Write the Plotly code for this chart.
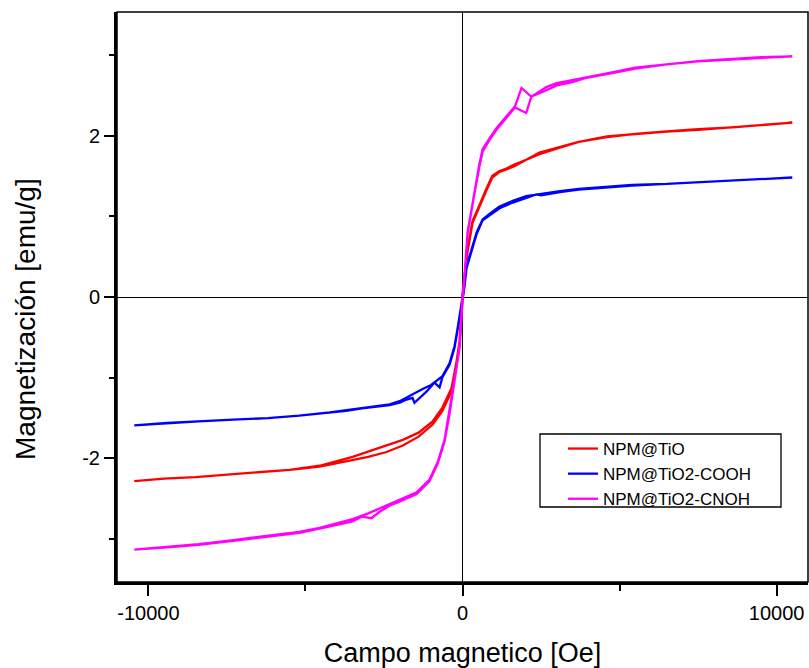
import plotly.graph_objects as go

# Hysteresis loops M(H) for three functionalised magnetic nanoparticle samples.
# Each loop: descending branch (+Hmax -> -Hmax) then ascending branch (-Hmax -> +Hmax).

# --- NPM@TiO ---
h_tio_down = [10500, 9500, 8600, 7500, 6500, 5500, 4600, 3700, 3100, 2450, 2030, 1650, 1400, 1180,
              950, 760, 480, 320, 160, 60, 0, -95, -190, -350, -640, -950, -1400, -1900, -2420,
              -3000, -3500, -4550, -5500, -6500, -7500, -8500, -9500, -10450]
m_tio_down = [2.16, 2.13, 2.10, 2.07, 2.05, 2.02, 1.99, 1.92, 1.86, 1.79, 1.70, 1.64, 1.59, 1.56,
              1.50, 1.34, 1.08, 0.94, 0.60, 0.22, 0.02, -0.55, -0.80, -1.13, -1.37, -1.54, -1.68,
              -1.77, -1.84, -1.92, -1.98, -2.09, -2.14, -2.17, -2.20, -2.23, -2.25, -2.28]
h_tio_up = [-10450, -9500, -8500, -7500, -6500, -5500, -4550, -3800, -3500, -3000, -2420, -1900,
            -1400, -950, -640, -350, -190, -95, 0, 60, 160, 320, 480, 760, 950, 1180, 1400, 1650,
            2030, 2450, 3100, 3700, 4600, 5500, 6500, 7500, 8600, 9500, 10500]
m_tio_up = [-2.28, -2.25, -2.23, -2.20, -2.17, -2.14, -2.10, -2.04, -2.02, -1.98, -1.92, -1.84,
            -1.73, -1.58, -1.41, -1.17, -0.84, -0.60, -0.04, 0.18, 0.56, 0.92, 1.07, 1.32, 1.48,
            1.55, 1.58, 1.62, 1.70, 1.77, 1.85, 1.92, 1.98, 2.02, 2.05, 2.08, 2.10, 2.13, 2.16]

# --- NPM@TiO2-COOH ---
h_cooh_down = [10500, 9500, 8500, 7500, 6500, 5400, 4600, 3700, 3100, 2500, 2030, 1600, 1180, 900,
               640, 450, 290, 130, 60, 0, -95, -160, -254, -413, -636, -890, -1000, -1270, -1500,
               -1780, -2000, -2320, -2700, -3200, -3700, -4230, -5200, -6200, -7300, -8400, -9400,
               -10450]
m_cooh_down = [1.48, 1.46, 1.44, 1.42, 1.40, 1.39, 1.37, 1.34, 1.31, 1.28, 1.25, 1.19, 1.12, 1.04,
               0.96, 0.80, 0.59, 0.38, 0.14, -0.02, -0.24, -0.40, -0.61, -0.82, -0.98, -1.06,
               -1.09, -1.14, -1.19, -1.25, -1.29, -1.33, -1.35, -1.37, -1.40, -1.43, -1.47, -1.50,
               -1.52, -1.54, -1.56, -1.59]
h_cooh_up = [-10450, -9400, -8400, -7300, -6200, -5200, -4230, -3700, -3200, -2700, -2320, -2000,
             -1780, -1590, -1530, -1140, -890, -730, -636, -413, -254, -160, -95, 0, 60, 130, 290,
             450, 640, 900, 1180, 1600, 2030, 2350, 2500, 3100, 3700, 4600, 5400, 6500, 7500,
             8500, 9500, 10500]
m_cooh_up = [-1.59, -1.56, -1.54, -1.52, -1.50, -1.47, -1.43, -1.41, -1.38, -1.36, -1.34, -1.31,
             -1.27, -1.25, -1.31, -1.17, -1.06, -1.12, -0.99, -0.84, -0.63, -0.42, -0.26, -0.04,
             0.12, 0.36, 0.57, 0.78, 0.95, 1.02, 1.10, 1.17, 1.23, 1.27, 1.26, 1.30, 1.33, 1.36,
             1.38, 1.40, 1.42, 1.44, 1.46, 1.48]

# --- NPM@TiO2-CNOH ---
h_cnoh_down = [10500, 9500, 8600, 7500, 6500, 5500, 4600, 3500, 3000, 2670, 2190, 2030, 1650, 1400,
               1080, 850, 640, 540, 380, 320, 160, 60, 0, -30, -95, -160, -254, -413, -572, -795,
               -1050, -1460, -2100, -2640, -3000, -3500, -4550, -5200, -6200, -7300, -8400, -9400,
               -10450]
m_cnoh_down = [2.98, 2.96, 2.95, 2.92, 2.88, 2.84, 2.77, 2.69, 2.65, 2.60, 2.48, 2.28, 2.35, 2.24,
               2.09, 1.96, 1.83, 1.65, 1.30, 1.19, 0.80, 0.25, 0.02, -0.20, -0.61, -0.80, -1.02,
               -1.43, -1.77, -2.05, -2.26, -2.42, -2.53, -2.62, -2.68, -2.75, -2.86, -2.91, -2.96,
               -3.01, -3.06, -3.09, -3.13]
h_cnoh_up = [-10450, -9400, -8400, -7300, -6200, -5200, -4550, -3500, -3200, -2900, -2640, -2300,
             -2100, -1460, -1050, -795, -572, -413, -254, -160, -95, 0, 60, 160, 320, 380, 540, 640,
             850, 1080, 1400, 1650, 1880, 2190, 2670, 3000, 3500, 3900, 4600, 5500, 6500, 7500,
             8600, 9500, 10500]
m_cnoh_up = [-3.13, -3.10, -3.07, -3.02, -2.97, -2.92, -2.87, -2.78, -2.72, -2.74, -2.66, -2.58,
             -2.55, -2.44, -2.28, -2.07, -1.79, -1.45, -1.04, -0.83, -0.63, -0.04, 0.22, 0.78,
             1.17, 1.28, 1.62, 1.80, 1.94, 2.07, 2.22, 2.34, 2.59, 2.48, 2.56, 2.62, 2.66, 2.71,
             2.76, 2.83, 2.88, 2.92, 2.95, 2.97, 2.98]

samples = [
    ("NPM@TiO", "#ff0000", h_tio_down + h_tio_up, m_tio_down + m_tio_up),
    ("NPM@TiO2-COOH", "#0000ff", h_cooh_down + h_cooh_up, m_cooh_down + m_cooh_up),
    ("NPM@TiO2-CNOH", "#ff00ff", h_cnoh_down + h_cnoh_up, m_cnoh_down + m_cnoh_up),
]

x_ticks = [-10000, 0, 10000]
x_ticktext = ["-10000", "0", "10000"]
y_ticks = [-2, 0, 2]
y_ticktext = ["-2", "0", "2"]

FONT = "Liberation Sans, Arial, sans-serif"

# plot-area geometry in pixels (used to place the legend frame and y title)
PL, PR, PT, PB = 117, 808, 12, 582
PW, PH = PR - PL, PB - PT


def px_x(p):
    return (p - PL) / PW


def px_y(p):
    return (PB - p) / PH


fig = go.Figure()
for name, color, h, m in samples:
    fig.add_trace(go.Scatter(x=h, y=m, mode="lines", name=name,
                             line=dict(color=color, width=2.3)))

axis_common = dict(
    showgrid=False,
    showline=True, linecolor="black", linewidth=3,
    ticks="outside", tickcolor="black", tickwidth=2,
    zeroline=True, zerolinecolor="black", zerolinewidth=1.3,
    tickfont=dict(family=FONT, size=20, color="black"),
)

fig.update_layout(
    width=809, height=668,
    margin=dict(l=PL, r=809 - PR, t=PT, b=668 - PB),
    paper_bgcolor="white", plot_bgcolor="white",
    font=dict(family=FONT, color="black"),
    xaxis=dict(
        range=[-11000, 11000], tickmode="array", tickvals=x_ticks, ticktext=x_ticktext,
        ticklen=11,
        minor=dict(tickmode="array", tickvals=[-5000, 5000], ticks="outside", ticklen=6,
                   tickwidth=2, tickcolor="black", showgrid=False),
        title=dict(text="Campo magnetico [Oe]", font=dict(family=FONT, size=27), standoff=21),
        **axis_common,
    ),
    yaxis=dict(
        range=[-3.53, 3.53], tickmode="array", tickvals=y_ticks, ticktext=y_ticktext,
        ticklen=10,
        minor=dict(tickmode="array", tickvals=[-3, -1, 1, 3], ticks="outside", ticklen=5,
                   tickwidth=2, tickcolor="black", showgrid=False),
        **axis_common,
    ),
    legend=dict(
        x=px_x(563), y=px_y(431), xanchor="left", yanchor="top",
        bgcolor="rgba(0,0,0,0)", borderwidth=0,
        font=dict(family=FONT, size=17, color="black"),
        tracegroupgap=0,
    ),
    annotations=[
        dict(text="Magnetización [emu/g]", textangle=-90, showarrow=False,
             xref="paper", yref="paper", x=px_x(25), y=px_y(319),
             xanchor="center", yanchor="middle",
             font=dict(family=FONT, size=28, color="black")),
    ],
    shapes=[
        dict(type="rect", xref="paper", yref="paper", x0=0, x1=1, y0=0, y1=1,
             line=dict(color="black", width=1.5), layer="above"),
        # legend frame
        dict(type="rect", xref="paper", yref="paper",
             x0=px_x(540), x1=px_x(781), y0=px_y(507), y1=px_y(434),
             line=dict(color="black", width=1.3), fillcolor="white", layer="below"),
    ],
)

fig.write_html("out.html")
